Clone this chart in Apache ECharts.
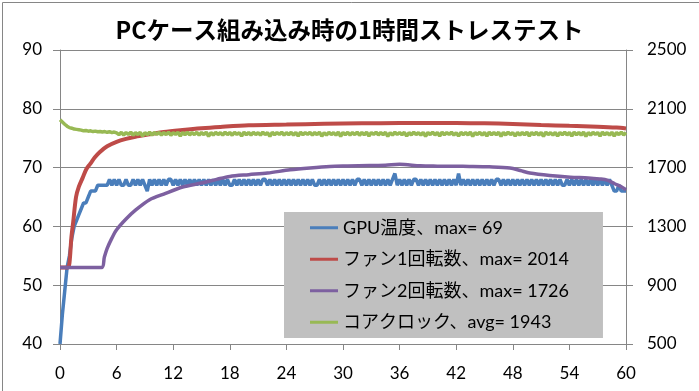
<!DOCTYPE html>
<html><head><meta charset="utf-8">
<script src="https://cdn.jsdelivr.net/npm/echarts@6/dist/echarts.min.js"></script>
<style>html,body{margin:0;padding:0;background:#fff}#c{width:699px;height:391px}</style>
</head><body><div id="c"></div>
<script>
const titleText = 'PCケース組み込み時の1時間ストレステスト';
const seriesNames = ['GPU温度、max= 69', 'ファン1回転数、max= 2014', 'ファン2回転数、max= 1726', 'コアクロック、avg= 1943'];
const xRange = [0, 60, 6];          // minutes: min, max, tick step
const leftRange = [40, 90, 10];     // °C
const rightRange = [500, 2500, 400];// rpm / MHz

// GPU temperature, sampled every 0.25 min
const sampleStep = 0.25;
const gpuTemp = [
40,45,49,53,55,58,60,61,62,63,64,64,65,66,66,66,67,67,67,67,67,68,67,68,67,68,67,67,68,67,67,68,67,68,67,68,67,66,68,
67,68,67,68,67,68,67,68,68,67,68,67,68,67,68,67,68,67,68,67,
68,67,68,67,68,67,68,67,68,67,68,67,68,67,67,68,67,68,67,68,
67,68,67,68,67,68,67,68,68,67,68,67,68,67,68,67,68,67,68,67,
68,67,68,67,68,67,68,67,68,67,67,68,67,68,67,68,67,68,67,68,
67,68,67,68,67,68,67,68,68,67,68,67,68,67,68,67,68,67,68,67,
68,67,68,69,67,68,67,68,67,68,67,68,68,67,68,67,68,67,68,67,
68,67,68,67,68,67,68,67,68,67,69,67,68,67,68,67,68,67,68,67,
68,67,68,67,68,67,68,68,67,68,67,68,67,68,67,68,67,68,67,68,
67,68,67,68,67,68,67,68,67,68,67,68,67,68,67,67,68,67,68,67,
68,67,68,67,68,67,68,67,68,67,68,67,68,67,68,
67,66,66,67,66,66,66
];

// Core clock, sampled every 0.25 min
const coreClock = [
2025,2010,1995,1982,1972,1968,1962,1960,1958,1955,1950,1952,1948,1950,1945,1948,1944,1946,1942,1945,1940,1944,1938,1942,
1936,1924,1940,1922,1938,1926,1941,1920,1937,1925,1940,1914,1938,1923,1941,1921,1939,1926,1940,1922,
1938,1924,1941,1920,1937,1926,1940,1915,1939,1923,1941,1922,1938,1925,1940,1921,1939,1924,1941,1913,
1938,1922,1940,1925,1937,1921,1941,1924,1939,1920,1940,1926,1938,1914,1941,1923,1939,1922,1940,1925,
1937,1921,1941,1924,1938,1912,1940,1923,1939,1925,1941,1921,1938,1924,1940,1922,1939,1915,1941,1923,
1938,1926,1940,1921,1939,1924,1941,1914,1937,1922,1940,1925,1938,1921,1941,1913,1939,1924,1940,1922,
1938,1925,1941,1920,1939,1923,1940,1915,1938,1926,1941,1922,1939,1924,1940,1912,1938,1921,1941,1925,
1939,1923,1940,1914,1938,1922,1941,1925,1937,1921,1940,1913,1939,1924,1941,1922,1938,1915,1940,1923,
1939,1925,1941,1921,1938,1914,1940,1924,1939,1922,1941,1913,1938,1925,1940,1921,1939,1915,1941,1923,
1938,1924,1940,1912,1939,1922,1941,1925,1938,1914,1940,1921,1939,1923,1941,1915,1938,1924,1940,1922,
1939,1913,1941,1925,1938,1921,1940,1914,1939,1923,1941,1922,1938,1915,1940,1924,1939,1921,1941,1913,
1938,1922,1940,1925,1939,1914,1941,1923,1938,1921,1940,1915,1939,1924,1941,1922,1938
];

// Fan 1 speed (rpm)
const fan1Time = [0,0.8,1.0,1.2,1.4,1.7,2.0,2.4,2.8,3.2,3.7,4.2,5,6,7,8,9.5,11,13,15,17,20,24,28,32,36,39,42,45,48,51,54,57,59,60];
const fan1Rpm  = [1020,1020,1050,1220,1330,1500,1570,1630,1690,1725,1770,1805,1845,1875,1895,1910,1926,1942,1956,1968,1977,1988,1993,1998,2001,2003,2004,2003,2001,1997,1990,1984,1978,1972,1966];

// Fan 2 speed (rpm)
const fan2Time = [0,4.4,4.7,5.0,5.5,6,7,8,9.5,11,13,15,16.6,18,20,22,24.4,26.5,28.6,30.5,32.8,34.5,36,38.2,40,42,43.4,45.5,47.7,48.8,49.8,51.9,54.1,56,57.2,58,58.8,59.5,60];
const fan2Rpm  = [1020,1020,1090,1150,1220,1277,1350,1410,1481,1520,1568,1595,1620,1640,1652,1663,1685,1698,1708,1711,1714,1716,1722,1712,1710,1709,1708,1705,1697,1680,1663,1646,1635,1630,1623,1615,1590,1570,1549];

const colors = ['#4a7ebb', '#be4b48', '#7d60a0', '#98b954'];

const sampled = arr => arr.map((v, i) => [i * sampleStep, v]);
const paired = (t, v) => t.map((x, i) => [x, v[i]]);

const axisColor = '#868686';
const labelFont = 'Lato, "Noto Sans CJK JP", sans-serif';
const plain = v => String(v);

const chart = echarts.init(document.getElementById('c'), null, {renderer: 'canvas'});
chart.setOption({
  animation: false,
  backgroundColor: '#fff',
  title: {
    text: titleText, left: 'center', top: 13,
    textStyle: {fontFamily: '"Noto Sans CJK JP", sans-serif', fontWeight: 'bold', fontSize: 23.5, color: '#000'}
  },
  graphic: [{
    type: 'rect', left: 0, top: 0, silent: true,
    shape: {x: 0.5, y: 0.5, width: 698, height: 390},
    style: {fill: 'none', stroke: axisColor, lineWidth: 1}
  }],
  grid: {left: 60, right: 73, top: 50, bottom: 47},
  legend: {
    orient: 'vertical', left: 284, top: 212,
    backgroundColor: '#c0c0c0',
    padding: [6, 34, 6, 26],
    itemWidth: 28, itemHeight: 3, itemGap: 12, icon: 'rect',
    textStyle: {fontFamily: labelFont, fontSize: 18, color: '#000', lineHeight: 19.5},
    data: seriesNames
  },
  xAxis: {
    type: 'value', min: xRange[0], max: xRange[1], interval: xRange[2],
    axisLine: {lineStyle: {color: axisColor}},
    axisTick: {show: true, length: 6, lineStyle: {color: axisColor}},
    axisLabel: {fontFamily: labelFont, fontSize: 17, color: '#000', margin: 21, formatter: plain},
    splitLine: {show: false}
  },
  yAxis: [{
    type: 'value', min: leftRange[0], max: leftRange[1], interval: leftRange[2],
    axisLine: {show: true, lineStyle: {color: axisColor}},
    axisTick: {show: true, length: 7, lineStyle: {color: axisColor}},
    axisLabel: {fontFamily: labelFont, fontSize: 17, color: '#000', margin: 18, formatter: plain},
    splitLine: {show: true, lineStyle: {color: axisColor}}
  }, {
    type: 'value', min: rightRange[0], max: rightRange[1], interval: rightRange[2],
    position: 'right',
    axisLine: {show: true, lineStyle: {color: axisColor}},
    axisTick: {show: true, length: 7, lineStyle: {color: axisColor}},
    axisLabel: {fontFamily: labelFont, fontSize: 17, color: '#000', margin: 21, formatter: plain},
    splitLine: {show: false}
  }],
  series: [
    {name: seriesNames[0], type: 'line', yAxisIndex: 0, data: sampled(gpuTemp), showSymbol: false,
     color: colors[0], lineStyle: {width: 3.5, color: colors[0]}},
    {name: seriesNames[1], type: 'line', yAxisIndex: 1, data: paired(fan1Time, fan1Rpm), showSymbol: false, smooth: 0.3,
     color: colors[1], lineStyle: {width: 4, color: colors[1]}},
    {name: seriesNames[2], type: 'line', yAxisIndex: 1, data: paired(fan2Time, fan2Rpm), showSymbol: false, smooth: 0.3,
     color: colors[2], lineStyle: {width: 3.5, color: colors[2]}},
    {name: seriesNames[3], type: 'line', yAxisIndex: 1, data: sampled(coreClock), showSymbol: false,
     color: colors[3], lineStyle: {width: 3.5, color: colors[3]}}
  ]
});
</script></body></html>
